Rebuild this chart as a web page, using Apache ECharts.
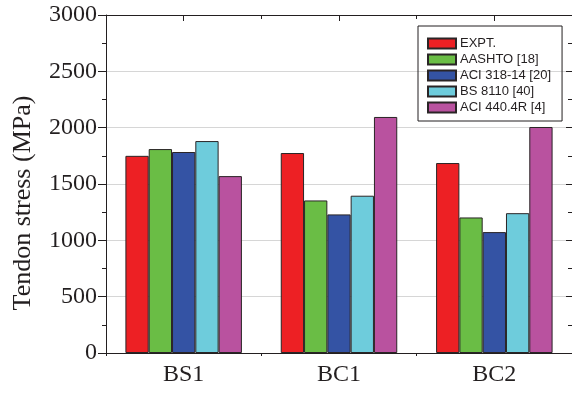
<!DOCTYPE html>
<html><head><meta charset="utf-8">
<script src="https://cdn.jsdelivr.net/npm/echarts@6/dist/echarts.min.js"></script>
<style>html,body{margin:0;padding:0;background:#fff}#c{width:572px;height:396px}</style>
</head><body><div id="c"></div>
<script>
const categories = ['BS1', 'BC1', 'BC2'];
const seriesNames = ['EXPT.', 'AASHTO [18]', 'ACI 318-14 [20]', 'BS 8110 [40]', 'ACI 440.4R [4]'];
const expt = [1750, 1775, 1686];
const aashto = [1810, 1354, 1203];
const aci318 = [1784, 1230, 1073];
const bs8110 = [1881, 1396, 1241];
const aci440 = [1570, 2095, 2006];
const colors = ['#ED2024', '#6ABD45', '#3453A4', '#6ECCDC', '#B9529F'];
const values = [expt, aashto, aci318, bs8110, aci440];

const chart = echarts.init(document.getElementById('c'), null, {renderer: 'canvas'});
const axisCol = '#231F20';
const serif = '"Liberation Serif", "Times New Roman", serif';
const catAxis = (pos, inside, align, len, show) => ({
  type: 'category', data: categories, position: pos, boundaryGap: true,
  axisLine: {show: show, lineStyle: {color: axisCol, width: 1}},
  axisTick: {show: true, inside: inside, alignWithLabel: align, length: len, lineStyle: {color: axisCol}},
  axisLabel: {show: false}, splitLine: {show: false}
});
const xAxes = [
  {
    type: 'category', data: categories, position: 'bottom', boundaryGap: true,
    axisLine: {lineStyle: {color: axisCol, width: 1}},
    axisTick: {alignWithLabel: true, length: 5, lineStyle: {color: axisCol}},
    axisLabel: {color: '#231F20', fontFamily: serif, fontSize: 24, margin: 10}
  },
  catAxis('bottom', false, false, 3, false),
  catAxis('top', true, true, 6, true),
  catAxis('top', true, false, 4, false)
];

chart.setOption({
  animation: false,
  grid: {left: 106, right: 0, top: 15, bottom: 43, containLabel: false},
  legend: {
    orient: 'vertical', left: 418, top: 26,
    data: seriesNames,
    icon: 'rect',
    itemWidth: 28, itemHeight: 10, itemGap: 3,
    padding: [11, 11, 7, 9],
    borderColor: axisCol, borderWidth: 1, borderRadius: 0,
    textStyle: {fontFamily: '"Liberation Sans", Arial, sans-serif', fontSize: 13, color: '#231F20', padding: [0, 0, 0, -1]}
  },
  xAxis: xAxes,
  yAxis: [
    {
      type: 'value', min: 0, max: 3000, interval: 500, position: 'left',
      name: 'Tendon stress (MPa)', nameLocation: 'middle', nameGap: 70,
      nameTextStyle: {fontFamily: serif, fontSize: 26, color: '#231F20', padding: [0, 0, 0, -38]},
      axisLine: {show: true, lineStyle: {color: axisCol, width: 1}},
      axisTick: {show: true, length: 8, lineStyle: {color: axisCol}},
      minorTick: {show: true, splitNumber: 2, length: 4, lineStyle: {color: axisCol}},
      axisLabel: {color: '#231F20', fontFamily: serif, fontSize: 24, margin: 9, formatter: v => String(v)},
      splitLine: {show: true, lineStyle: {color: '#d6d6d6', width: 1}}
    },
    {
      type: 'value', min: 0, max: 3000, interval: 500, position: 'right',
      axisLine: {show: true, lineStyle: {color: axisCol, width: 1}},
      axisTick: {show: true, inside: true, length: 6, lineStyle: {color: axisCol}},
      minorTick: {show: true, splitNumber: 2, length: 4, lineStyle: {color: axisCol}},
      axisLabel: {show: false},
      splitLine: {show: false}
    }
  ],
  series: seriesNames.map((n, i) => ({
    name: n, type: 'bar', data: values[i], xAxisIndex: 0, yAxisIndex: 0,
    barGap: '0%', barCategoryGap: '25%',
    itemStyle: {color: colors[i], borderColor: '#2a2526', borderWidth: 1}
  }))
});
</script></body></html>
